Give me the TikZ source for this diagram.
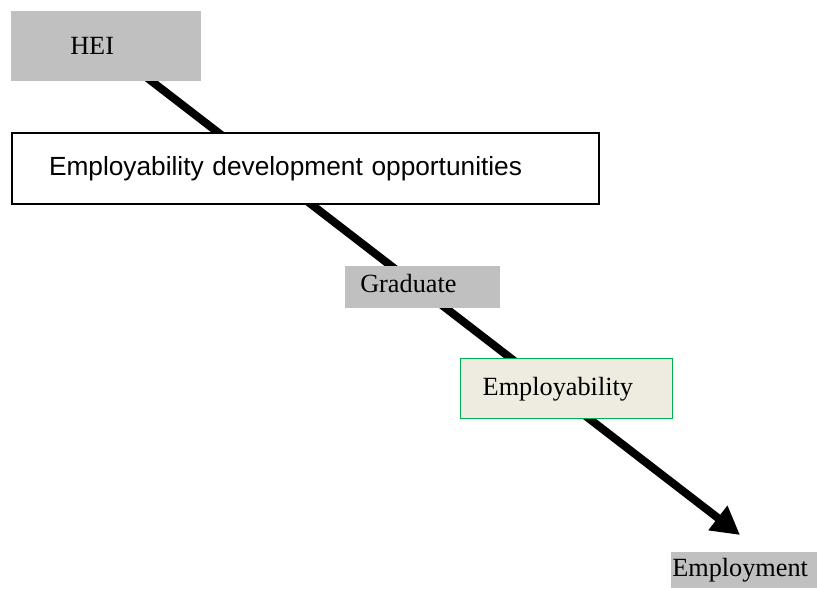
\documentclass[tikz,border=0pt]{standalone}
\usepackage{fontspec}
\setmainfont{Liberation Serif}
\newfontfamily\arialfont{Liberation Sans}
\usetikzlibrary{arrows.meta,backgrounds}
\definecolor{boxgray}{HTML}{C0C0C0}
\definecolor{boxbeige}{HTML}{EEECE1}
\definecolor{boxgreen}{HTML}{00B050}

\begin{document}
\begin{tikzpicture}[x=0.75pt,y=-0.75pt,
  every node/.style={font=\fontsize{19.7}{23}\selectfont, align=left,
    inner ysep=0pt, anchor=north west},
  grey/.style={fill=boxgray},
  plain/.style={draw=black, line width=1.5pt, fill=white},
  skill/.style={draw=boxgreen, line width=1.1pt, fill=boxbeige}]
\useasboundingbox (0,0) rectangle (817,589);

\node[grey, text width=54pt, inner xsep=44.25pt, minimum height=52.5pt]
  (hei) at (11,11) {HEI};
\node[plain, text width=384.75pt, inner xsep=27.75pt, minimum height=53.25pt]
  (edo) at (11,132) {\arialfont Employability development opportunities};
\node[grey, text width=93.75pt, inner xsep=11.25pt, minimum height=31.5pt]
  (grad) at (345,266) {Graduate\rule[-6pt]{0pt}{1pt}};
\node[skill, text width=126pt, inner xsep=16.5pt, minimum height=45pt]
  (empl) at (460,358) {Employability};
\node[grey, text width=108pt, inner xsep=0.75pt, minimum height=27pt]
  (job) at (671,552) {Employment};

\coordinate (tip) at (740,535);

\begin{scope}[on background layer]
\draw[line width=6pt, -{Triangle[length=21pt,width=22pt]}]
  (hei.center) -- (tip);
\end{scope}

\end{tikzpicture}
\end{document}
